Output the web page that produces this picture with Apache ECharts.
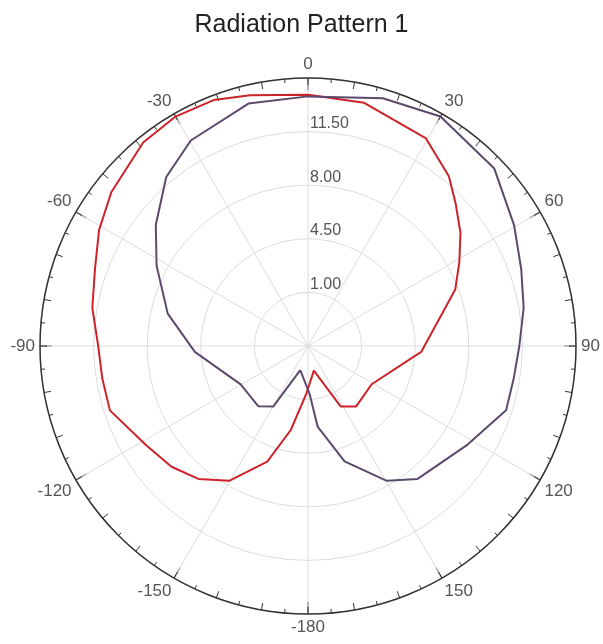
<!DOCTYPE html>
<html>
<head>
<meta charset="utf-8">
<script src="https://cdn.jsdelivr.net/npm/echarts@6/dist/echarts.min.js"></script>
<style>
html,body{margin:0;padding:0;background:#fff;}
#main{width:603px;height:644px;}
</style>
</head>
<body>
<div id="main"></div>
<script>
// angles in degrees (0 = top, clockwise), values in axis units
var redAngles = [-177.8, -168.4, -160.6, -149.7, -140.5, -131.5, -121.4, -108, -99, -90, -80, -70, -61, -52, -39, -30, -21, -13, 0, 13, 29.5, 39.7, 46, 53.4, 61, 69, 93, 121, 141.6, 151.6, 166.6, -177.8];
var redValues = [0.65, 3.1, 5.5, 7.7, 8.75, 9.4, 9.9, 11.1, 11.1, 11.2, 11.8, 12.3, 13.1, 13.8, 14.6, 14.8, 14.7, 14.3, 13.9, 13.8, 13.1, 11.9, 10.9, 9.9, 8.8, 7.8, 4.9, 2.35, 2.55, 2.0, -0.85, 0.65];
var purpleAngles = [-162.3, -150.2, -140.4, -119.7, -93, -77, -62, -51.5, -40, -29.7, -13.8, 0, 16.8, 30, 46.4, 59.6, 70.2, 80, 90, 99, 108, 121.7, 140.5, 149.7, 162.4, 173.2, 178, -162.3];
var purpleValues = [-0.84, 2.05, 2.6, 2.56, 4.9, 6.9, 8.7, 10.2, 11.9, 12.95, 13.8, 13.8, 14.4, 14.8, 14.3, 13.1, 12.3, 11.8, 11.3, 11.1, 11.1, 9.75, 8.75, 7.7, 5.4, 2.8, 0.65, -0.84];
var radiusMin = -2.5, radiusMax = 15, radiusStep = 3.5;

function toPairs(angles, values) {
	var out = [];
	for (var i = 0; i < angles.length; i++) {
		out.push([values[i], (angles[i] + 360) % 360]);
	}
	return out;
}

var center = [308, 346];
var radius = 268;

var option = {
	animation: false,
	title: {
		text: 'Radiation Pattern 1',
		left: 'center',
		top: 8,
		textStyle: {
			fontFamily: 'Liberation Sans',
			fontSize: 25,
			fontWeight: 'normal',
			color: '#222'
		}
	},
	polar: [
		{ center: center, radius: radius },
		{ center: center, radius: radius }
	],
	angleAxis: [{
		polarIndex: 0,
		type: 'value',
		min: 0,
		max: 360,
		interval: 30,
		startAngle: 90,
		clockwise: true,
		axisLine: { lineStyle: { color: '#333', width: 1.5 } },
		axisTick: { inside: true, length: 12, lineStyle: { color: '#333', width: 1.2 } },
		axisLabel: {
			margin: 5,
			color: '#555',
			fontSize: 17,
			fontFamily: 'Liberation Sans',
			formatter: function (v) {
				if (v >= 360) return '';
				return v > 150 ? String(v - 360) : String(v);
			}
		},
		splitLine: { lineStyle: { color: '#dcdcdc', width: 1 } }
	}, {
		polarIndex: 1,
		type: 'value',
		min: 0,
		max: 360,
		interval: 10,
		startAngle: 90,
		clockwise: true,
		axisLine: { show: false },
		axisTick: { inside: true, length: 7, lineStyle: { color: '#333', width: 1 } },
		minorTick: { show: true, splitNumber: 2, length: 4, lineStyle: { color: '#333', width: 1 } },
		axisLabel: { show: false },
		splitLine: { show: false }
	}],
	radiusAxis: [{
		polarIndex: 0,
		type: 'value',
		min: radiusMin,
		max: radiusMax,
		interval: radiusStep,
		axisLine: { show: false },
		axisTick: { show: false },
		axisLabel: {
			color: '#555',
			fontSize: 16,
			fontFamily: 'Liberation Sans',
			margin: -2,
			align: 'left',
			verticalAlign: 'bottom',
			formatter: function (v) {
				if (v <= radiusMin || v >= radiusMax) return '';
				return v.toFixed(2);
			}
		},
		splitLine: { lineStyle: { color: '#dcdcdc', width: 1 } }
	}, {
		polarIndex: 1,
		type: 'value',
		min: radiusMin,
		max: radiusMax,
		show: false
	}],
	series: [{
		name: 'red',
		type: 'line',
		coordinateSystem: 'polar',
		polarIndex: 0,
		data: toPairs(redAngles, redValues),
		showSymbol: false,
		lineStyle: { color: '#cc2228', width: 2 }
	}, {
		name: 'purple',
		type: 'line',
		coordinateSystem: 'polar',
		polarIndex: 0,
		data: toPairs(purpleAngles, purpleValues),
		showSymbol: false,
		lineStyle: { color: '#5c4a6c', width: 2 }
	}]
};

var myChart = echarts.init(document.getElementById('main'));
myChart.setOption(option, true);
</script>
</body>
</html>
